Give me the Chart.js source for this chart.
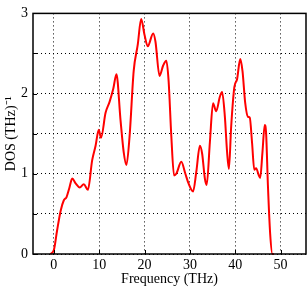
<!DOCTYPE html>
<html>
<head>
<meta charset="utf-8">
<script src="https://cdn.jsdelivr.net/npm/chart.js@4/dist/chart.umd.min.js"></script>
<style>
  body { margin: 0; background: #fff; }
  canvas { display: block; }
</style>
</head>
<body>
<canvas id="chartDos" width="307" height="288"></canvas>
<script>
const freq = [-0.8, 0, 0.7, 1.5, 2.2, 2.8, 3.4, 4.05, 4.8, 5.7, 6.6, 7.5, 8.45, 9.2, 9.9, 10.4,
  11.4, 12.3, 13.1, 13.8, 14.7, 15.4, 16.0, 16.7, 17.6, 18.5, 19.25, 20.0, 20.7, 21.9, 22.4,
  23.3, 24.1, 24.8, 25.3, 25.9, 26.5, 27.0, 28.1, 29.0, 29.7, 30.7, 31.4, 32.2, 32.7, 33.3,
  33.7, 34.4, 35.1, 35.8, 36.6, 37.1, 37.7, 38.2, 38.6, 39.1, 39.8, 40.4, 41.1, 41.6, 42.2,
  42.8, 43.2, 43.7, 44.2, 44.6, 45.2, 45.5, 46.0, 46.5, 46.8, 47.2, 47.7, 48.2, 48.5];
const dos = [0, 0.05, 0.29, 0.54, 0.67, 0.71, 0.82, 0.94, 0.88, 0.83, 0.87, 0.80, 1.17, 1.35, 1.55, 1.45,
  1.76, 1.90, 2.06, 2.24, 1.67, 1.27, 1.11, 1.47, 2.28, 2.61, 2.93, 2.73, 2.59, 2.75, 2.65,
  2.22, 2.35, 2.41, 2.16, 1.47, 0.98, 1.00, 1.15, 1.00, 0.88, 0.78, 1.02, 1.35, 1.25, 0.94,
  0.86, 1.39, 1.88, 1.78, 1.96, 2.02, 1.72, 1.27, 1.06, 1.59, 2.08, 2.18, 2.43, 2.28, 1.88,
  1.71, 1.70, 1.39, 1.05, 1.07, 0.98, 0.95, 1.27, 1.61, 1.51, 0.86, 0.25, 0, 0];
const xTicks = [0, 10, 20, 30, 40, 50];
const yTicks = [0, 0.5, 1, 1.5, 2, 2.5, 3];

const serif = { family: "'Liberation Serif', 'Times New Roman', serif", size: 14 };

// box round the plot area plus small inward ticks
const frame = {
  id: 'frame',
  afterDraw(chart) {
    const a = chart.chartArea, ctx = chart.ctx;
    const sx = chart.scales.x, sy = chart.scales.y;
    ctx.save();
    ctx.strokeStyle = '#000';
    ctx.lineWidth = 1;
    ctx.beginPath();
    xTicks.forEach(v => {
      const px = Math.round(sx.getPixelForValue(v)) + 0.5;
      ctx.moveTo(px, a.bottom);
      ctx.lineTo(px, a.bottom - 4);
    });
    yTicks.forEach(v => {
      const py = Math.round(sy.getPixelForValue(v)) + 0.5;
      ctx.moveTo(a.left, py);
      ctx.lineTo(a.left + 4, py);
    });
    ctx.stroke();
    ctx.lineWidth = 1.5;
    ctx.strokeRect(a.left, a.top, a.right - a.left, a.bottom - a.top);
    ctx.restore();
  }
};

new Chart(document.getElementById('chartDos'), {
  type: 'scatter',
  data: {
    datasets: [{
      data: freq.map((f, i) => ({ x: f, y: dos[i] })),
      showLine: true,
      borderColor: '#ff0000',
      borderWidth: 2,
      pointRadius: 0,
      cubicInterpolationMode: 'monotone',
      clip: false
    }]
  },
  options: {
    responsive: false,
    animation: false,
    layout: { padding: { top: 8, right: 1 } },
    plugins: { legend: { display: false }, tooltip: { enabled: false } },
    scales: {
      x: {
        type: 'linear',
        min: -4.6,
        max: 55.6,
        afterBuildTicks: axis => { axis.ticks = xTicks.map(v => ({ value: v })); },
        afterFit: axis => { axis.height = 34; },
        ticks: { color: '#000', font: serif, padding: 3, maxRotation: 0 },
        grid: { color: '#000', lineWidth: 1, drawTicks: false },
        border: { display: false, dash: [1, 3] },
        title: { display: true, text: 'Frequency (THz)', color: '#000', font: serif, padding: { top: 0, bottom: 0 } }
      },
      y: {
        min: 0,
        max: 3,
        afterBuildTicks: axis => { axis.ticks = yTicks.map(v => ({ value: v })); },
        afterFit: axis => { axis.width = 33; },
        ticks: {
          color: '#000', font: serif, padding: 5,
          callback: v => (Number.isInteger(v) ? v : '')
        },
        grid: { color: '#000', lineWidth: 1, drawTicks: false },
        border: { display: false, dash: [1, 3] },
        title: { display: true, text: 'DOS (THz)⁻¹', color: '#000', font: serif, padding: { top: 3, bottom: 0 } }
      }
    }
  },
  plugins: [frame]
});
</script>
</body>
</html>
